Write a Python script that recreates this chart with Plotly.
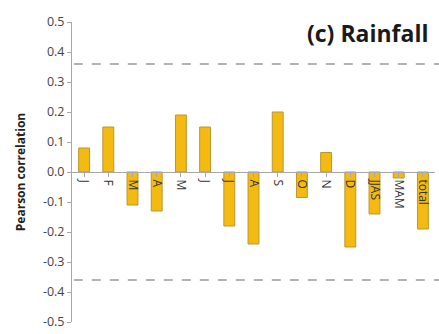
import plotly.graph_objects as go

# Monthly / seasonal correlation of rainfall
categories = ["J", "F", "M", "A", "M", "J", "J", "A", "S", "O", "N", "D", "JJAS", "MAM", "total"]
correlation = [0.08, 0.15, -0.11, -0.13, 0.19, 0.15, -0.18, -0.24, 0.20, -0.085, 0.065, -0.25, -0.14, -0.02, -0.19]
significance = 0.36
y_ticks = [0.5, 0.4, 0.3, 0.2, 0.1, 0.0, -0.1, -0.2, -0.3, -0.4, -0.5]

xpos = list(range(len(categories)))

fig = go.Figure()
fig.add_trace(go.Bar(
    x=xpos, y=correlation, width=0.45,
    marker=dict(color="#F5BA12", line=dict(color="#B8972E", width=1)),
    showlegend=False,
))

for level in (significance, -significance):
    fig.add_shape(type="line", xref="paper", x0=0.005, x1=1.02, yref="y", y0=level, y1=level,
                  line=dict(color="#9a9a9a", width=1.5, dash="dash"))

fig.update_layout(
    width=439, height=334,
    margin=dict(l=72, r=4, t=22, b=12),
    paper_bgcolor="white", plot_bgcolor="white",
    font=dict(family="Open Sans", color="#3a3a3a"),
    bargap=0.5,
    xaxis=dict(
        range=[-0.5, len(categories) - 0.5],
        tickmode="array", tickvals=xpos, ticktext=categories,
        tickangle=90, tickfont=dict(size=12, color="#333"),
        anchor="free", position=0.5,
        showline=True, linecolor="#a8a8a8", linewidth=1,
        ticks="outside", ticklen=4, tickcolor="#a8a8a8",
        showgrid=False, zeroline=False,
    ),
    yaxis=dict(
        range=[-0.5, 0.5],
        tickmode="array", tickvals=y_ticks,
        ticktext=[f"{v:.1f}" for v in y_ticks],
        tickfont=dict(size=12.5, color="#444"),
        showline=True, linecolor="#a8a8a8", linewidth=1,
        ticks="outside", ticklen=4, tickcolor="#a8a8a8",
        showgrid=False, zeroline=False,
        title=dict(text="<b>Pearson correlation</b>", font=dict(size=12, color="#222"), standoff=14),
    ),
)

# Shift ticks to category boundaries
fig.update_xaxes(tickson="boundaries")

fig.add_annotation(
    text="<b>(c) Rainfall</b>", xref="paper", yref="paper",
    x=0.985, y=0.965, xanchor="right", yanchor="middle", showarrow=False,
    font=dict(family="Open Sans", size=23, color="#1a1a1a"),
)

fig.write_html("out.html")
